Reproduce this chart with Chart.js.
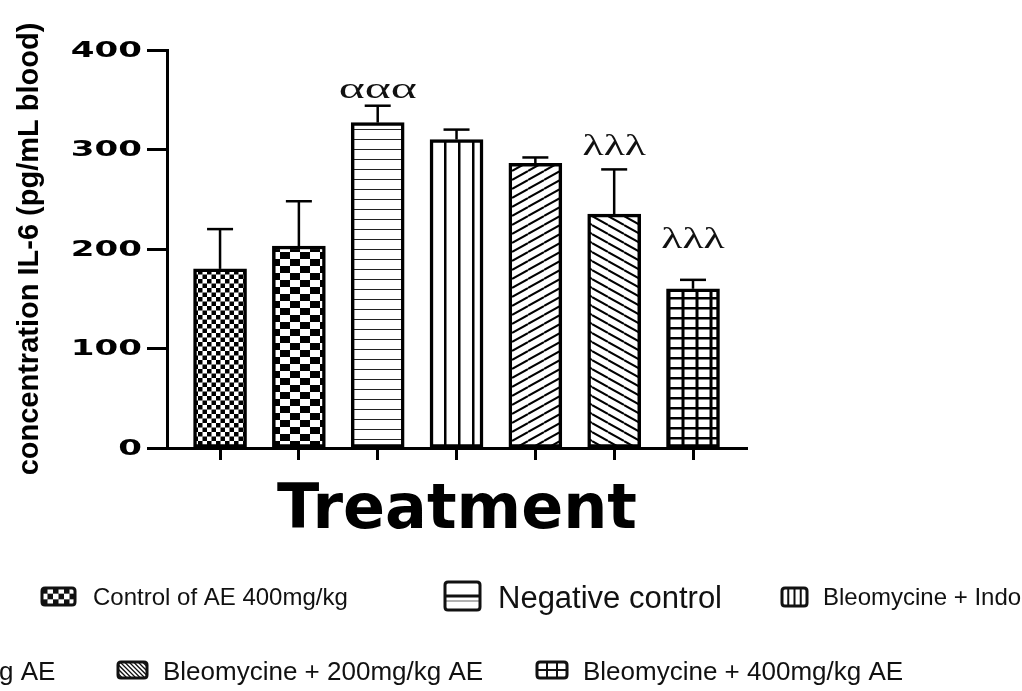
<!DOCTYPE html>
<html><head><meta charset="utf-8">
<script src="https://cdn.jsdelivr.net/npm/chart.js@4.4.1/dist/chart.umd.min.js"></script>
<style>html,body{margin:0;padding:0;background:#fff;}#wrap{width:1022px;height:691px;}</style>
</head><body><div id="wrap"><canvas id="c" width="1022" height="691"></canvas></div>
<script>
// ---- data ----
const categories = ["Control", "Control of AE 400mg/kg", "Negative control", "Bleomycine + Indo", "Bleomycine + AE", "Bleomycine + 200mg/kg AE", "Bleomycine + 400mg/kg AE"];
const means = [180, 203, 327, 310, 286, 235, 160];
const sem = [40, 45, 17, 10, 6, 45, 9];
const yTicks = [0, 100, 200, 300, 400];
const barPatterns = ["checkFine", "checkCoarse", "hlines", "vlines", "diagUp", "diagDown", "grid"];
const sigMarks = ["", "", "ααα", "", "", "λλλ", "λλλ"];
const sigLevels = [null, null, 360, null, null, 302, 209];
const legendLabels = ["Control of AE 400mg/kg", "Negative control", "Bleomycine + Indo", "g AE", "Bleomycine + 200mg/kg AE", "Bleomycine + 400mg/kg AE"];
const legendIcons = ["checkCoarse", "hlines", "vlines", null, "diagDown", "grid"];

// ---- layout / style (not data) ----
const legendLayout = [
  {icon: [42, 588, 33, 17], tx: 93, base: 605, size: 24},
  {icon: [445, 582, 35, 28], tx: 498, base: 608, size: 31},
  {icon: [782, 588, 25, 18], tx: 823, base: 605, size: 24},
  {icon: null, tx: -1, base: 680, size: 26},
  {icon: [118, 662, 29, 16], tx: 163, base: 680, size: 26},
  {icon: [537, 662, 30, 16], tx: 583, base: 680, size: 26}
];

function makePattern(type) {
  const sizes = {checkFine: [9, 9], checkCoarse: [20, 14], hlines: [10, 10], vlines: [14, 10], diagUp: [16, 9], diagDown: [16, 9], grid: [14, 10]};
  const c = document.createElement('canvas');
  c.width = sizes[type][0]; c.height = sizes[type][1];
  const g = c.getContext('2d');
  g.fillStyle = '#fff'; g.fillRect(0, 0, c.width, c.height);
  g.fillStyle = '#000'; g.strokeStyle = '#000';
  switch (type) {
    case 'checkFine': g.fillRect(0, 0, 4.5, 4.5); g.fillRect(4.5, 4.5, 4.5, 4.5); break;
    case 'checkCoarse': g.fillRect(0, 0, 10, 7); g.fillRect(10, 7, 10, 7); break;
    case 'hlines': g.fillStyle = '#222'; g.fillRect(0, 9, 10, 2); break;
    case 'vlines': g.fillRect(10, 0, 2.5, 10); break;
    case 'diagUp': g.lineWidth = 2; [-9, 0, 9].forEach(o => { g.beginPath(); g.moveTo(0, 9 + o); g.lineTo(16, o); g.stroke(); }); break;
    case 'diagDown': g.lineWidth = 2; [-9, 0, 9].forEach(o => { g.beginPath(); g.moveTo(0, o); g.lineTo(16, 9 + o); g.stroke(); }); break;
    case 'grid': g.fillRect(9.5, 0, 3, 10); g.fillRect(0, 7, 14, 2.5); break;
  }
  return g.createPattern(c, 'repeat');
}

function roundRect(ctx, x, y, w, h, r) {
  ctx.beginPath();
  ctx.moveTo(x + r, y); ctx.lineTo(x + w - r, y); ctx.quadraticCurveTo(x + w, y, x + w, y + r);
  ctx.lineTo(x + w, y + h - r); ctx.quadraticCurveTo(x + w, y + h, x + w - r, y + h);
  ctx.lineTo(x + r, y + h); ctx.quadraticCurveTo(x, y + h, x, y + h - r);
  ctx.lineTo(x, y + r); ctx.quadraticCurveTo(x, y, x + r, y); ctx.closePath();
}

function drawIcon(ctx, type, x, y, w, h) {
  ctx.save();
  roundRect(ctx, x, y, w, h, 3);
  ctx.fillStyle = '#fff'; ctx.fill();
  ctx.save(); ctx.clip();
  ctx.fillStyle = '#111'; ctx.strokeStyle = '#111';
  if (type === 'checkCoarse') {
    ctx.fillRect(x, y, w, h);
    ctx.fillStyle = '#fff';
    const cw = w / 6, ch = h / 3;
    for (let r = 0; r < 3; r++) for (let k = 0; k < 6; k++) if ((r + k) % 2 === 1) ctx.fillRect(x + k * cw, y + r * ch, cw, ch);
  } else if (type === 'hlines') {
    ctx.lineWidth = 3; ctx.beginPath(); ctx.moveTo(x, y + h / 2); ctx.lineTo(x + w, y + h / 2); ctx.stroke();
    ctx.strokeStyle = '#999'; ctx.lineWidth = 1.5;
    ctx.beginPath(); ctx.moveTo(x, y + h / 2 + 5); ctx.lineTo(x + w, y + h / 2 + 5); ctx.stroke();
  } else if (type === 'vlines') {
    ctx.lineWidth = 2;
    for (let k = 1; k < 4; k++) { ctx.beginPath(); ctx.moveTo(x + k * w / 4, y); ctx.lineTo(x + k * w / 4, y + h); ctx.stroke(); }
  } else if (type === 'diagDown') {
    ctx.lineWidth = 1.3;
    for (let o = -h; o < w + h; o += 4.5) { ctx.beginPath(); ctx.moveTo(x + o, y); ctx.lineTo(x + o + h, y + h); ctx.stroke(); }
  } else if (type === 'grid') {
    ctx.lineWidth = 2;
    for (let k = 1; k < 3; k++) { ctx.beginPath(); ctx.moveTo(x + k * w / 3, y); ctx.lineTo(x + k * w / 3, y + h); ctx.stroke(); }
    ctx.beginPath(); ctx.moveTo(x, y + h / 2); ctx.lineTo(x + w, y + h / 2); ctx.stroke();
  }
  ctx.restore();
  roundRect(ctx, x, y, w, h, 3);
  ctx.lineWidth = 3; ctx.strokeStyle = '#111'; ctx.stroke();
  ctx.restore();
}

const extrasPlugin = {
  id: 'extras',
  afterDatasetsDraw(chart) {
    const ctx = chart.ctx, xs = chart.scales.x, ys = chart.scales.y;
    ctx.save();
    ctx.strokeStyle = '#000'; ctx.lineWidth = 2.5;
    means.forEach((m, i) => {
      const x = xs.getPixelForValue(i);
      const y0 = ys.getPixelForValue(m), y1 = ys.getPixelForValue(m + sem[i]);
      ctx.beginPath(); ctx.moveTo(x, y0); ctx.lineTo(x, y1); ctx.stroke();
      ctx.beginPath(); ctx.moveTo(x - 13, y1); ctx.lineTo(x + 13, y1); ctx.stroke();
    });
    // significance marks
    ctx.fillStyle = '#111';
    ctx.font = '30px "Liberation Serif"';
    ctx.textAlign = 'center'; ctx.textBaseline = 'middle';
    sigMarks.forEach((s, i) => {
      if (!s) return;
      const x = xs.getPixelForValue(i), y = ys.getPixelForValue(sigLevels[i]);
      const sx = s.indexOf('α') >= 0 ? 1.65 : 1.45;
      ctx.save(); ctx.translate(x, y); ctx.scale(sx, 1); ctx.fillText(s, 0, 0); ctx.restore();
    });
    ctx.restore();
  },
  afterDraw(chart) {
    const ctx = chart.ctx, ys = chart.scales.y;
    ctx.save();
    // y tick labels (wide bold)
    ctx.fillStyle = '#000';
    ctx.font = 'bold 22px "DejaVu Sans"';
    ctx.textAlign = 'right'; ctx.textBaseline = 'middle';
    const rx = ys.right - ys.options.grid.tickLength - 5;
    ys.ticks.forEach(t => {
      const y = ys.getPixelForValue(t.value);
      ctx.save(); ctx.translate(rx, y + 1); ctx.scale(1.55, 1); ctx.fillText(String(t.value), 0, 0); ctx.restore();
    });
    // legend
    ctx.textAlign = 'left'; ctx.textBaseline = 'alphabetic';
    legendLabels.forEach((lab, i) => {
      const L = legendLayout[i];
      if (legendIcons[i] && L.icon) drawIcon(ctx, legendIcons[i], L.icon[0], L.icon[1], L.icon[2], L.icon[3]);
      ctx.fillStyle = '#111';
      ctx.font = L.size + 'px "Liberation Sans"';
      ctx.fillText(lab, L.tx, L.base);
    });
    ctx.restore();
  }
};

Chart.defaults.font.family = '"Liberation Sans", Arial, sans-serif';
const chart = new Chart(document.getElementById('c'), {
  type: 'bar',
  data: {
    datasets: [{
      data: means.map((v, i) => ({x: i, y: v})),
      backgroundColor: barPatterns.map(makePattern),
      borderColor: '#000',
      borderWidth: 3.5,
      borderSkipped: false,
      barThickness: 53
    }]
  },
  options: {
    responsive: false,
    animation: false,
    layout: {padding: {top: 50, right: 275, bottom: 141, left: 0}},
    plugins: {legend: {display: false}, tooltip: {enabled: false}},
    scales: {
      x: {
        type: 'linear', min: -0.673, max: 6.685, offset: false,
        afterBuildTicks: s => { s.ticks = categories.map((_, i) => ({value: i})); },
        afterFit: s => { s.height = 102; },
        ticks: {display: false},
        grid: {display: true, offset: false, drawOnChartArea: false, drawTicks: true, tickLength: 12, tickWidth: 3, tickColor: '#000'},
        border: {display: true, color: '#000', width: 3},
        title: {display: true, text: 'Treatment', color: '#000', font: {family: '"DejaVu Sans"', weight: 'bold', size: 62}, padding: {top: 0, bottom: 1}}
      },
      y: {
        min: 0, max: 400,
        afterBuildTicks: s => { s.ticks = yTicks.map(v => ({value: v})); },
        afterFit: s => { s.width = 167; },
        ticks: {display: false},
        grid: {display: true, drawOnChartArea: false, drawTicks: true, tickLength: 20, tickWidth: 3, tickColor: '#000'},
        border: {display: true, color: '#000', width: 3},
        title: {display: true, text: 'concentration IL-6 (pg/mL blood)', color: '#000', font: {family: '"Liberation Sans"', weight: 'bold', size: 29}, padding: {top: 13, bottom: 0}}
      }
    }
  },
  plugins: [extrasPlugin]
});
</script></body></html>
